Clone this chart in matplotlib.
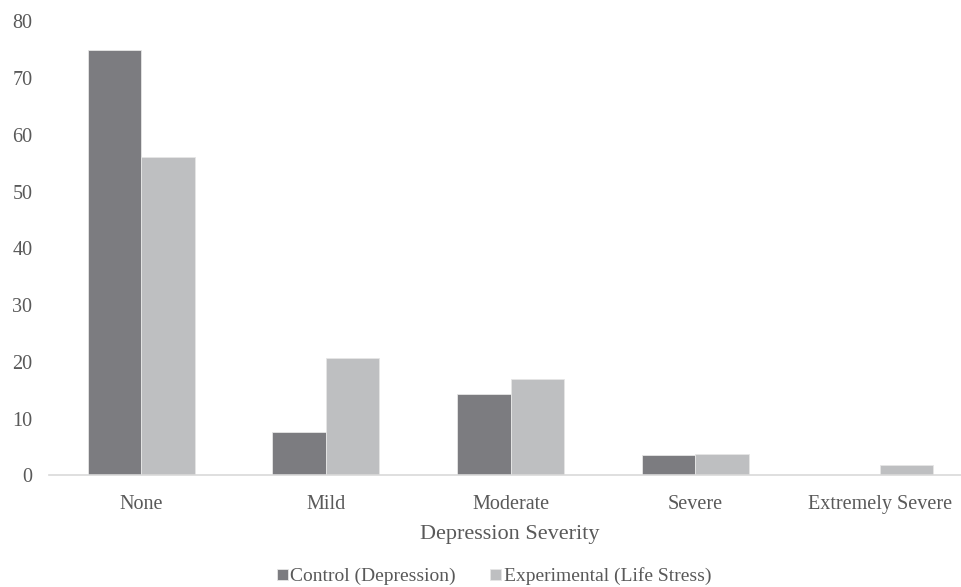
import matplotlib.pyplot as plt
import numpy as np

categories = ["None", "Mild", "Moderate", "Severe", "Extremely Severe"]
control = [75, 7.7, 14.3, 3.6, 0]
experimental = [56, 20.7, 16.9, 3.7, 1.85]
series_names = ["Control (Depression)", "Experimental (Life Stress)"]
yticks = [0, 10, 20, 30, 40, 50, 60, 70, 80]

DARK = "#7c7c80"
LIGHT = "#bebfc1"
TEXT = "#595959"

plt.rcParams["font.family"] = ["Liberation Serif", "DejaVu Serif"]

fig = plt.figure(figsize=(9.61, 5.87), dpi=100)
ax = fig.add_axes([0.051, 0.19, 0.949, 0.774])

x = np.arange(len(categories))
w = 0.29
ax.bar(x - w / 2, control, w, color=DARK, edgecolor="#e6e6e6", linewidth=0.6,
       label=series_names[0])
ax.bar(x + w / 2, experimental, w, color=LIGHT, edgecolor="#e6e6e6", linewidth=0.6,
       label=series_names[1])

ax.set_xlim(-0.5, 4.44)
ax.set_ylim(0, 80)
ax.set_yticks(yticks)
ax.set_xticks(x)
ax.set_xticklabels(categories)
ax.tick_params(length=0, labelsize=14.5, colors=TEXT)
ax.tick_params(axis="x", pad=14)
ax.tick_params(axis="y", pad=12)

for side in ["top", "right", "left"]:
    ax.spines[side].set_visible(False)
ax.spines["bottom"].set_color("#d9d9d9")
ax.spines["bottom"].set_linewidth(1.2)

ax.set_xlabel("Depression Severity", fontsize=16, color=TEXT, labelpad=8)
ax.xaxis.label.set_x(0.505)

ax.legend(loc="center", bbox_to_anchor=(0.488, -0.222), ncol=2, frameon=False,
          fontsize=14, labelcolor=TEXT, handlelength=0.55, handleheight=0.55,
          handletextpad=0.15, columnspacing=1.75, borderpad=0)

fig.savefig("out.png", dpi=100)
